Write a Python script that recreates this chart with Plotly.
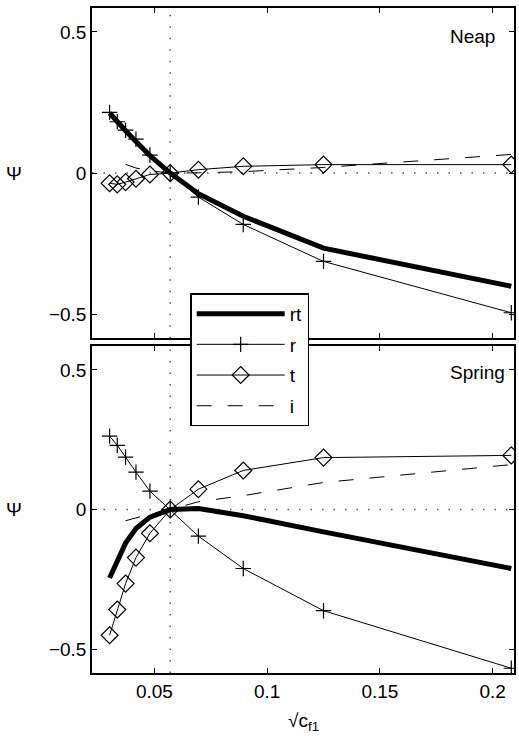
import plotly.graph_objects as go

# ---- data ----
x = [0.0301, 0.0335, 0.0372, 0.0418, 0.0480, 0.0570, 0.0695, 0.0894, 0.1250, 0.2083]
x_i = [0.0372, 0.0418, 0.0480, 0.0570, 0.0695, 0.0894, 0.1250, 0.2083]

neap_rt = [0.213, 0.180, 0.150, 0.112, 0.062, 0.000, -0.073, -0.153, -0.266, -0.401]
neap_r = [0.215, 0.182, 0.152, 0.120, 0.064, 0.000, -0.085, -0.182, -0.313, -0.495]
neap_t = [-0.036, -0.040, -0.032, -0.020, -0.005, 0.000, 0.012, 0.024, 0.030, 0.030]
neap_i = [0.031, 0.018, 0.008, 0.000, 0.001, 0.005, 0.020, 0.066]

spring_rt = [-0.245, -0.183, -0.120, -0.068, -0.027, 0.000, 0.004, -0.022, -0.080, -0.211]
spring_r = [0.263, 0.230, 0.188, 0.134, 0.066, 0.000, -0.095, -0.211, -0.362, -0.568]
spring_t = [-0.450, -0.358, -0.265, -0.172, -0.085, 0.000, 0.073, 0.140, 0.186, 0.194]
spring_i = [-0.040, -0.030, -0.016, 0.000, 0.028, 0.050, 0.097, 0.161]

series_names = ["rt", "r", "t", "i"]
panel_labels = ["Neap", "Spring"]
x_ref = 0.057
y_ref = 0.0
y_ticks = [-0.5, 0, 0.5]
x_ticks = [0.05, 0.1, 0.15, 0.2]

FONT = "Liberation Sans, Arial, Helvetica, sans-serif"
FS = 19

fig = go.Figure()


def add_panel(rt, r, t, i, xa, ya, show):
    fig.add_trace(go.Scatter(x=x, y=rt, mode="lines", name=series_names[0],
                             line=dict(color="black", width=5),
                             xaxis=xa, yaxis=ya, showlegend=show, legendgroup="a"))
    fig.add_trace(go.Scatter(x=x, y=r, mode="lines+markers", name=series_names[1],
                             line=dict(color="black", width=1),
                             marker=dict(symbol="cross-thin", size=11,
                                         line=dict(color="black", width=1.2)),
                             xaxis=xa, yaxis=ya, showlegend=show, legendgroup="b"))
    fig.add_trace(go.Scatter(x=x, y=t, mode="lines+markers", name=series_names[2],
                             line=dict(color="black", width=1),
                             marker=dict(symbol="diamond-open", size=13, color="black",
                                         line=dict(color="black", width=1.2)),
                             xaxis=xa, yaxis=ya, showlegend=show, legendgroup="c"))
    fig.add_trace(go.Scatter(x=x_i, y=i, mode="lines", name=series_names[3],
                             line=dict(color="black", width=1, dash="15px,16px"),
                             xaxis=xa, yaxis=ya, showlegend=show, legendgroup="d"))


add_panel(neap_rt, neap_r, neap_t, neap_i, "x", "y", True)
add_panel(spring_rt, spring_r, spring_t, spring_i, "x2", "y2", False)

# dotted reference lines
for xr, yr in [("x", "y"), ("x2", "y2")]:
    fig.add_shape(type="line", xref=xr, yref=yr + " domain", x0=x_ref, x1=x_ref, y0=0, y1=1,
                  line=dict(color="#555", width=1.5, dash="1.5px,10px"), layer="below")
    fig.add_shape(type="line", xref=xr + " domain", yref=yr, x0=0, x1=1, y0=y_ref, y1=y_ref,
                  line=dict(color="#555", width=1.5, dash="1.5px,10px"), layer="below")

# panel labels
fig.add_annotation(x=0.18, y=0.485, xref="x", yref="y", text=panel_labels[0],
                   showarrow=False, xanchor="left", yanchor="middle",
                   font=dict(size=FS, color="black", family=FONT))
fig.add_annotation(x=0.18, y=0.49, xref="x2", yref="y2", text=panel_labels[1],
                   showarrow=False, xanchor="left", yanchor="middle",
                   font=dict(size=FS, color="black", family=FONT))

# y labels
for yr in ["y", "y2"]:
    fig.add_annotation(x=-0.184, y=0, xref="paper", yref=yr, text="Ψ",
                       showarrow=False, xanchor="center", yanchor="middle",
                       font=dict(size=FS, color="black", family=FONT))

# x label
fig.add_annotation(x=0.5, y=-0.074, xref="paper", yref="paper", text="√c<sub>f1</sub>",
                   showarrow=False, xanchor="center", yanchor="middle",
                   font=dict(size=FS, color="black", family=FONT))

axis_common = dict(showline=True, linecolor="black", linewidth=1.5, mirror="ticks",
                   ticks="inside", ticklen=5, tickwidth=1, tickcolor="black",
                   showgrid=False, zeroline=False,
                   tickfont=dict(size=FS, color="black", family=FONT))

fig.update_layout(
    width=519, height=743,
    margin=dict(l=92, r=3, t=8, b=70),
    paper_bgcolor="white", plot_bgcolor="white",
    font=dict(family=FONT, size=FS, color="black"),
    xaxis=dict(range=[0.0223, 0.2095], tickvals=x_ticks, showticklabels=False,
               anchor="y", **axis_common),
    xaxis2=dict(range=[0.0223, 0.2095], tickvals=x_ticks, anchor="y2", **axis_common),
    yaxis=dict(range=[-0.585, 0.585], tickvals=y_ticks, domain=[0.5035, 1.0],
               anchor="x", **axis_common),
    yaxis2=dict(range=[-0.585, 0.585], tickvals=y_ticks, domain=[0.0, 0.4915],
                anchor="x2", **axis_common),
    legend=dict(x=0.2326, y=0.571, xanchor="left", yanchor="top",
                bgcolor="white", bordercolor="black", borderwidth=1.5,
                font=dict(size=FS, color="black", family=FONT),
                itemwidth=88, traceorder="grouped", tracegroupgap=3),
    showlegend=True,
)

fig.write_html(
    "out.html",
    config={"displayModeBar": False},
    post_script="document.body.style.margin='0';document.body.style.overflow='hidden';",
)
